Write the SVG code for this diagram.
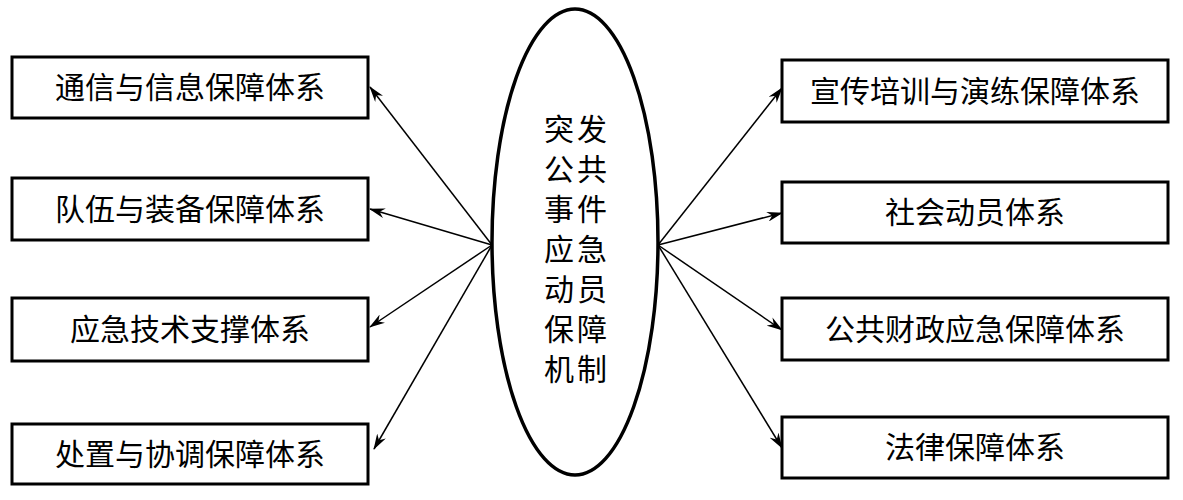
<svg xmlns="http://www.w3.org/2000/svg" width="1183" height="500" viewBox="0 0 1183 500">
<style>
rect{fill:#fff;stroke:#000;stroke-width:3}
text{font-family:"Noto Sans CJK SC",sans-serif;font-size:30px;fill:#000;text-anchor:middle}
.c{font-size:30px;letter-spacing:3px}
line{stroke:#000;stroke-width:1.5;marker-end:url(#a)}
</style>
<defs><marker id="a" markerWidth="16" markerHeight="10" refX="15" refY="5" orient="auto" markerUnits="userSpaceOnUse"><path d="M0,0 L16,5 L0,10 L5,5 Z" fill="#000"/></marker></defs>
<rect x="0" y="0" width="1183" height="500" style="stroke:none"/>
<g id="connectors">
<line x1="492" y1="245" x2="370" y2="87"/>
<line x1="492" y1="245" x2="370" y2="209"/>
<line x1="492" y1="245" x2="370" y2="327"/>
<line x1="492" y1="245" x2="374" y2="449"/>
<line x1="658" y1="245" x2="782" y2="88"/>
<line x1="658" y1="245" x2="782" y2="213"/>
<line x1="658" y1="245" x2="782" y2="330"/>
<line x1="658" y1="245" x2="782" y2="448"/>
</g>
<g id="center"><ellipse cx="575" cy="242" rx="83" ry="233" fill="none" stroke="#000" stroke-width="3.5"/>
<text class="c" x="577" y="140">突发</text>
<text class="c" x="577" y="180">公共</text>
<text class="c" x="577" y="220">事件</text>
<text class="c" x="577" y="260">应急</text>
<text class="c" x="577" y="300">动员</text>
<text class="c" x="577" y="340">保障</text>
<text class="c" x="577" y="380">机制</text></g>
<g id="l1"><rect x="12" y="57" width="356" height="61"/><text x="190" y="98">通信与信息保障体系</text></g>
<g id="l2"><rect x="12" y="178" width="356" height="62"/><text x="190" y="220">队伍与装备保障体系</text></g>
<g id="l3"><rect x="12" y="298" width="356" height="63"/><text x="190" y="340">应急技术支撑体系</text></g>
<g id="l4"><rect x="12" y="424" width="356" height="60"/><text x="190" y="465">处置与协调保障体系</text></g>
<g id="r1"><rect x="782" y="60" width="386" height="62"/><text x="975" y="102">宣传培训与演练保障体系</text></g>
<g id="r2"><rect x="782" y="182" width="386" height="61"/><text x="975" y="223">社会动员体系</text></g>
<g id="r3"><rect x="782" y="298" width="386" height="62"/><text x="975" y="340">公共财政应急保障体系</text></g>
<g id="r4"><rect x="782" y="417" width="386" height="61"/><text x="975" y="458">法律保障体系</text></g>
</svg>
